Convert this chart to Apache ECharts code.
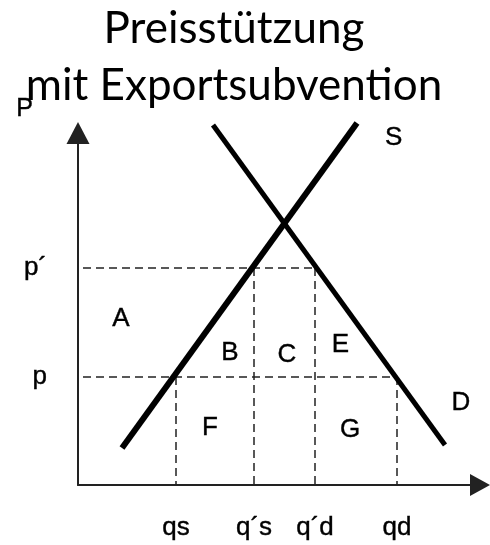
<!DOCTYPE html>
<html>
<head>
<meta charset="utf-8">
<script src="https://cdn.jsdelivr.net/npm/echarts@6/dist/echarts.min.js"></script>
<style>
  html, body { margin: 0; padding: 0; background: #fff; }
  #chart { width: 490px; height: 545px; }
</style>
</head>
<body>
<div id="chart"></div>
<script>
// quantity on x, price on y (roughly 4px per unit)
const qLabels = ['qs', 'q´s', 'q´d', 'qd'];
const qValues = [24.5, 44, 59.25, 79.75];
const pLabels = ['p', 'p´'];
const pValues = [27, 54.25];
const supplyCurve = [[11, 9.25], [69.75, 90.5]];
const demandCurve = [[33.75, 90], [91.75, 10]];
const curveNames = ['S', 'D'];
const curveNamePos = [[78.9, 86.9], [95.75, 20.5]];
const areaNames = ['A', 'B', 'C', 'E', 'F', 'G'];
const areaPos = [[10.75, 41.5], [38, 33.1], [52.25, 32.6], [65.6, 35], [33, 14.25], [68, 13.75]];
const dashStart = 1.25;

const chart = echarts.init(document.getElementById('chart'));

const [qs, qs2, qd2, qd] = qValues;
const [p, p2] = pValues;
const guides = [
  [[dashStart, p2], [qd2, p2]],
  [[dashStart, p], [qd, p]],
  [[qs, p], [qs, 0]],
  [[qs2, p2], [qs2, 0]],
  [[qd2, p2], [qd2, 0]],
  [[qd, p], [qd, 0]]
];

// a thin outline makes the letters as heavy as in the scan
const labelFont = {
  fontFamily: 'Liberation Sans',
  fontSize: 26,
  color: '#000',
  textBorderColor: '#000',
  textBorderWidth: 0.4
};

const guideSeries = guides.map(seg => ({
  type: 'line',
  data: seg,
  symbol: 'none',
  clip: false,
  silent: true,
  lineStyle: { color: '#222', width: 1.5, type: [8, 5] }
}));

const textItems = curveNames.map((n, i) => ({ name: n, value: curveNamePos[i] }))
  .concat(areaNames.map((n, i) => ({ name: n, value: areaPos[i] })));

const option = {
  animation: false,
  title: {
    text: 'Preisstützung\nmit Exportsubvention',
    left: 234,
    top: 0,
    padding: 0,
    textAlign: 'center',
    textStyle: {
      fontFamily: 'Lato',
      fontWeight: 'normal',
      fontSize: 44,
      lineHeight: 57,
      color: '#000'
    }
  },
  grid: { left: 78, right: 12, top: 133, bottom: 60 },
  xAxis: {
    type: 'value',
    min: 0,
    max: 100,
    splitLine: { show: false },
    axisTick: { show: false },
    axisLine: {
      symbol: ['none', 'triangle'],
      symbolSize: [22, 20],
      symbolOffset: [0, 2],
      lineStyle: { color: '#222', width: 2 }
    },
    axisLabel: {
      customValues: qValues,
      formatter: v => qLabels[qValues.indexOf(v)],
      margin: 30,
      ...labelFont
    }
  },
  yAxis: {
    type: 'value',
    min: 0,
    max: 88,
    name: 'P',
    nameLocation: 'end',
    nameGap: 11,
    nameTextStyle: { ...labelFont, fontSize: 25, padding: [0, 107, 0, 0] },
    splitLine: { show: false },
    axisTick: { show: false },
    axisLine: {
      symbol: ['none', 'triangle'],
      symbolSize: [23, 22],
      lineStyle: { color: '#222', width: 2 }
    },
    axisLabel: {
      customValues: pValues,
      formatter: v => pLabels[pValues.indexOf(v)],
      margin: 31,
      ...labelFont
    }
  },
  series: [
    ...guideSeries,
    {
      name: 'S',
      type: 'line',
      data: supplyCurve,
      symbol: 'none',
      clip: false,
      lineStyle: { color: '#000', width: 6, cap: 'butt' }
    },
    {
      name: 'D',
      type: 'line',
      data: demandCurve,
      symbol: 'none',
      clip: false,
      lineStyle: { color: '#000', width: 5, cap: 'butt' }
    },
    {
      type: 'scatter',
      data: textItems,
      symbolSize: 1,
      clip: false,
      silent: true,
      itemStyle: { color: 'rgba(0,0,0,0)', opacity: 1 },
      label: {
        show: true,
        position: 'inside',
        formatter: '{b}',
        ...labelFont
      }
    }
  ]
};

chart.setOption(option);
</script>
</body>
</html>
